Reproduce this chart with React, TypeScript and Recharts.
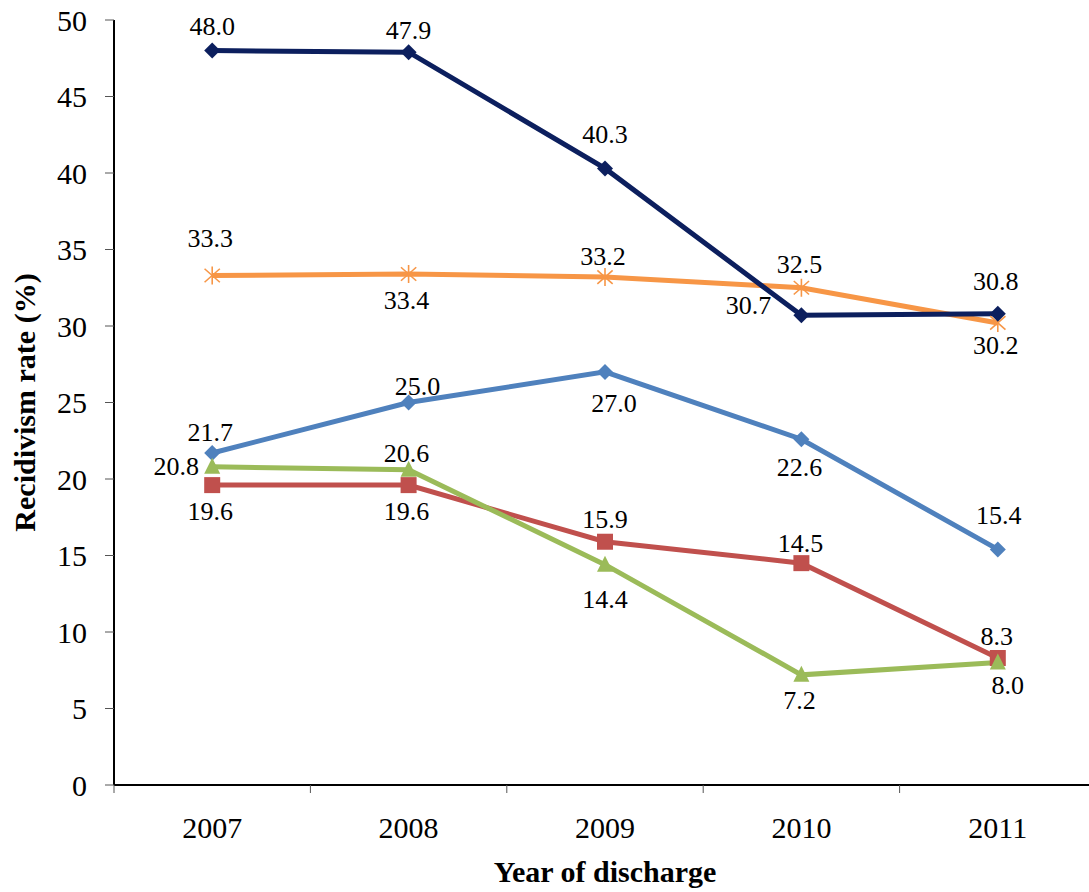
import React from 'react';
import { LineChart, Line, XAxis, YAxis } from 'recharts';

// ---- data ----
const years = ['2007', '2008', '2009', '2010', '2011'];
const navySeries = [48.0, 47.9, 40.3, 30.7, 30.8];
const orangeSeries = [33.3, 33.4, 33.2, 32.5, 30.2];
const blueSeries = [21.7, 25.0, 27.0, 22.6, 15.4];
const redSeries = [19.6, 19.6, 15.9, 14.5, 8.3];
const greenSeries = [20.8, 20.6, 14.4, 7.2, 8.0];
const yTicks = [0, 5, 10, 15, 20, 25, 30, 35, 40, 45, 50];

// ---- label placement (style, center of label relative to point) ----
const navyLabelOffsets = [[0, -24], [0, -22], [0, -34], [-53, -10], [-2, -33]];
const orangeLabelOffsets = [[-2, -37], [-2, 26], [-2, -20.5], [-2, -24], [-2, 22]];
const blueLabelOffsets = [[-2, -21], [9, -16.5], [9, 31], [-2, 28], [1, -34]];
const redLabelOffsets = [[-2, 26], [-2, 26], [0, -23], [-1, -20], [-1, -22]];
const greenLabelOffsets = [[-36, -1], [-2, -17], [0, 34], [-2, 25], [10, 23]];

// ---- layout ----
const CHART_W = 1100;
const CHART_H = 892;
const MARGIN = { top: 20, right: 4, left: 54, bottom: 47 };
const YAXIS_W = 60;
const XAXIS_H = 60;
const AXIS_Y = CHART_H - MARGIN.bottom - XAXIS_H;
const PLOT_W = CHART_W - MARGIN.left - MARGIN.right - YAXIS_W;
const HALF_BAND = PLOT_W / (2 * years.length);

const FONT = '"Times New Roman", "Liberation Serif", serif';
const NAVY = '#0C1F5E';
const ORANGE = '#F79646';
const BLUE = '#4F81BD';
const RED = '#C0504D';
const GREEN = '#9BBB59';

const data = years.map((y, i) => ({
  year: y,
  navy: navySeries[i],
  orange: orangeSeries[i],
  blue: blueSeries[i],
  red: redSeries[i],
  green: greenSeries[i],
}));

const diamondDot = (color: string, r: number) => (p: any) => (
  <path
    key={`d-${color}-${p.index}`}
    d={`M${p.cx},${p.cy - r} L${p.cx + r},${p.cy} L${p.cx},${p.cy + r} L${p.cx - r},${p.cy} Z`}
    fill={color}
  />
);
const squareDot = (color: string, r: number) => (p: any) => (
  <rect key={`s-${p.index}`} x={p.cx - r} y={p.cy - r} width={2 * r} height={2 * r} fill={color} />
);
const triangleDot = (color: string, r: number) => (p: any) => (
  <path
    key={`t-${p.index}`}
    d={`M${p.cx},${p.cy - r - 1} L${p.cx + r},${p.cy + r - 1} L${p.cx - r},${p.cy + r - 1} Z`}
    fill={color}
  />
);
const starDot = (color: string, r: number) => (p: any) => (
  <g key={`x-${p.index}`} stroke={color} strokeWidth={1.6}>
    <line x1={p.cx} y1={p.cy - r} x2={p.cx} y2={p.cy + r} />
    <line x1={p.cx - r * 0.85} y1={p.cy - r * 0.75} x2={p.cx + r * 0.85} y2={p.cy + r * 0.75} />
    <line x1={p.cx - r * 0.85} y1={p.cy + r * 0.75} x2={p.cx + r * 0.85} y2={p.cy - r * 0.75} />
  </g>
);

const makeLabel = (offsets: number[][]) => (p: any) => {
  const o = offsets[p.index] || [0, -24];
  const fs = 26;
  return (
    <text
      key={`l-${p.index}-${p.value}`}
      x={p.x + o[0]}
      y={p.y + o[1] + fs * 0.34}
      textAnchor="middle"
      fontFamily={FONT}
      fontSize={fs}
      fill="#000"
    >
      {Number(p.value).toFixed(1)}
    </text>
  );
};

const XTick = (p: any) => {
  const isLast = p.index === years.length - 1;
  return (
    <g>
      <line x1={p.x - HALF_BAND} y1={AXIS_Y} x2={p.x - HALF_BAND} y2={AXIS_Y + 8} stroke="#555" strokeWidth={1} />
      {isLast && (
        <line x1={p.x + HALF_BAND} y1={AXIS_Y} x2={p.x + HALF_BAND} y2={AXIS_Y + 8} stroke="#555" strokeWidth={1} />
      )}
      <text x={p.x} y={p.y + 21} textAnchor="middle" fontFamily={FONT} fontSize={30} fill="#000">
        {p.payload.value}
      </text>
    </g>
  );
};

export default function App() {
  return (
    <div style={{ position: 'absolute', left: 0, top: 0, width: 1089, height: 892, overflow: 'hidden', background: '#fff' }}>
      <LineChart width={CHART_W} height={CHART_H} data={data} margin={MARGIN}>
        <XAxis
          dataKey="year"
          scale="band"
          height={XAXIS_H}
          tickLine={false}
          tickSize={8}
          tickMargin={24}
          axisLine={{ stroke: '#000', strokeWidth: 2 }}
          tick={<XTick />}
          interval={0}
          label={{
            content: (lp: any) => {
              const vb = lp.viewBox || { x: 114, y: AXIS_Y, width: PLOT_W, height: XAXIS_H };
              return (
                <text
                  x={vb.x + vb.width / 2}
                  y={882}
                  textAnchor="middle"
                  fontFamily={FONT}
                  fontWeight="bold"
                  fontSize={30}
                  fill="#000"
                >
                  Year of discharge
                </text>
              );
            },
          }}
        />
        <YAxis
          width={YAXIS_W}
          domain={[0, 50]}
          ticks={yTicks}
          interval={0}
          tickSize={9}
          tickMargin={18}
          tickLine={{ stroke: '#555', strokeWidth: 1 }}
          axisLine={{ stroke: '#000', strokeWidth: 2 }}
          tick={{ fill: '#000', fontSize: 30, fontFamily: FONT }}
          label={{
            content: (lp: any) => {
              const vb = lp.viewBox || { x: MARGIN.left, y: MARGIN.top, width: YAXIS_W, height: AXIS_Y - MARGIN.top };
              const cx = vb.x - 19;
              const cy = vb.y + vb.height / 2;
              return (
                <text
                  x={cx}
                  y={cy}
                  transform={`rotate(-90, ${cx}, ${cy})`}
                  textAnchor="middle"
                  fontFamily={FONT}
                  fontWeight="bold"
                  fontSize={30}
                  fill="#000"
                >
                  Recidivism rate (%)
                </text>
              );
            },
          }}
        />
        <Line
          dataKey="blue"
          stroke={BLUE}
          strokeWidth={5}
          isAnimationActive={false}
          dot={diamondDot(BLUE, 8)}
          activeDot={false}
          label={makeLabel(blueLabelOffsets)}
        />
        <Line
          dataKey="red"
          stroke={RED}
          strokeWidth={5}
          isAnimationActive={false}
          dot={squareDot(RED, 8)}
          activeDot={false}
          label={makeLabel(redLabelOffsets)}
        />
        <Line
          dataKey="green"
          stroke={GREEN}
          strokeWidth={5}
          isAnimationActive={false}
          dot={triangleDot(GREEN, 8)}
          activeDot={false}
          label={makeLabel(greenLabelOffsets)}
        />
        <Line
          dataKey="orange"
          stroke={ORANGE}
          strokeWidth={5}
          isAnimationActive={false}
          dot={starDot(ORANGE, 9)}
          activeDot={false}
          label={makeLabel(orangeLabelOffsets)}
        />
        <Line
          dataKey="navy"
          stroke={NAVY}
          strokeWidth={5}
          isAnimationActive={false}
          dot={diamondDot(NAVY, 8)}
          activeDot={false}
          label={makeLabel(navyLabelOffsets)}
        />
      </LineChart>
    </div>
  );
}
